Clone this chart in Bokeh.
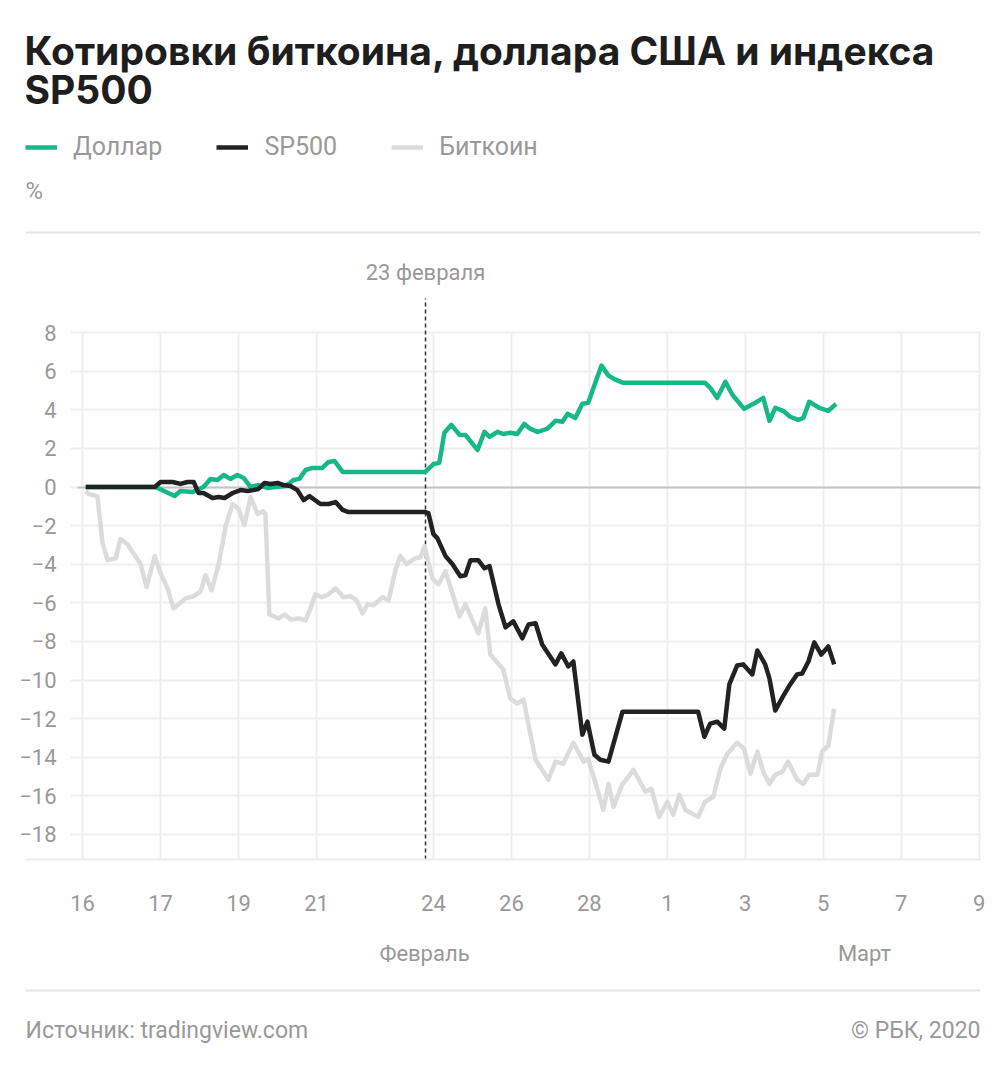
from bokeh.plotting import figure
from bokeh.models import (Range1d, FixedTicker, Label, Legend, LegendItem,
                          BoxAnnotation, Grid)
from bokeh.embed import file_html
from bokeh.resources import INLINE

# ---------------- data (day of Feb 2020; Mar 1 = 30) ----------------
btc_day = [15.08, 15.15, 15.38, 15.51, 15.64, 15.85, 15.97, 16.15, 16.49, 16.64, 16.85, 17.00,
           17.18, 17.33, 17.64, 17.85, 18.03, 18.15, 18.31, 18.49, 18.67, 18.85, 19.00, 19.15,
           19.31, 19.49, 19.62, 19.69, 19.79, 20.03, 20.18, 20.33, 20.54, 20.72, 20.82, 20.97,
           21.13, 21.31, 21.49, 21.69, 21.87, 22.03, 22.18, 22.31, 22.46, 22.69, 22.85, 23.03,
           23.15, 23.31, 23.54, 23.67, 23.77, 23.97, 24.13, 24.31, 24.67, 24.82, 25.15, 25.33,
           25.46, 25.79, 25.97, 26.15, 26.31, 26.62, 26.95, 27.13, 27.33, 27.59, 27.85, 27.97,
           28.15, 28.36, 28.49, 28.62, 28.85, 28.97, 29.13, 29.44, 29.59, 29.79, 30.00, 30.15,
           30.31, 30.46, 30.79, 30.97, 31.18, 31.36, 31.54, 31.79, 31.97, 32.13, 32.31, 32.46,
           32.62, 32.77, 32.95, 33.10, 33.33, 33.49, 33.64, 33.85, 33.97, 34.13, 34.28]
btc_pct = [-0.21, -0.36, -0.47, -2.91, -3.79, -3.69, -2.70, -2.96, -4.00, -5.19, -3.58, -4.47,
           -5.25, -6.29, -5.77, -5.66, -5.40, -4.57, -5.35, -4.00, -2.03, -0.88, -1.14, -1.97,
           -0.52, -1.40, -1.25, -1.40, -6.60, -6.81, -6.60, -6.86, -6.81, -6.91, -6.44, -5.56,
           -5.71, -5.56, -5.25, -5.71, -5.66, -5.87, -6.55, -6.08, -6.13, -5.71, -5.87, -4.26,
           -3.58, -4.00, -3.69, -3.64, -3.06, -4.73, -5.04, -4.36, -6.70, -6.08, -7.58, -6.29,
           -8.68, -9.45, -10.96, -11.22, -11.01, -14.13, -15.17, -14.23, -14.34, -13.25, -14.23, -14.08,
           -15.27, -16.73, -15.38, -16.57, -15.38, -15.12, -14.65, -15.79, -15.64, -17.09, -16.31, -16.99,
           -15.95, -16.73, -17.09, -16.31, -16.05, -14.60, -13.82, -13.25, -13.56, -14.86, -13.71, -14.75,
           -15.38, -14.91, -14.75, -14.23, -15.17, -15.38, -14.91, -14.91, -13.71, -13.40, -11.48]

usd_day = [15.08, 16.87, 17.36, 17.51, 17.82, 18.10, 18.28, 18.46, 18.62, 18.79, 18.97, 19.13,
           19.31, 19.51, 19.74, 19.95, 20.21, 20.41, 20.56, 20.72, 20.90, 21.15, 21.31, 21.46,
           21.67, 23.79, 24.00, 24.15, 24.28, 24.46, 24.67, 24.82, 25.13, 25.31, 25.44, 25.64,
           25.79, 25.97, 26.15, 26.33, 26.49, 26.67, 26.92, 27.13, 27.31, 27.44, 27.64, 27.82,
           27.97, 28.31, 28.49, 28.67, 28.87, 30.97, 31.10, 31.28, 31.49, 31.67, 31.97, 32.21,
           32.46, 32.62, 32.77, 32.97, 33.15, 33.36, 33.49, 33.64, 33.90, 34.13, 34.33]
usd_pct = [0.00, 0.00, -0.47, -0.21, -0.26, 0.00, 0.42, 0.36, 0.62, 0.42, 0.62, 0.47,
           0.00, 0.10, -0.05, 0.00, 0.05, 0.36, 0.42, 0.88, 0.99, 0.99, 1.30, 1.35,
           0.78, 0.78, 1.19, 1.25, 2.81, 3.22, 2.70, 2.70, 1.92, 2.86, 2.60, 2.86,
           2.75, 2.81, 2.75, 3.27, 3.01, 2.86, 3.01, 3.43, 3.38, 3.79, 3.58, 4.31,
           4.36, 6.29, 5.77, 5.56, 5.40, 5.40, 5.14, 4.62, 5.45, 4.78, 4.05, 4.31,
           4.62, 3.43, 4.10, 3.95, 3.64, 3.48, 3.58, 4.42, 4.10, 3.95, 4.31]

spx_day = [15.08, 16.85, 17.00, 17.31, 17.51, 17.69, 17.85, 17.97, 18.10, 18.33, 18.49, 18.64,
           18.85, 19.05, 19.23, 19.38, 19.51, 19.67, 19.82, 20.00, 20.15, 20.33, 20.51, 20.67,
           20.82, 21.10, 21.31, 21.49, 21.67, 21.82, 23.79, 23.87, 24.00, 24.10, 24.31, 24.49,
           24.69, 24.82, 24.95, 25.15, 25.31, 25.44, 25.67, 25.85, 26.05, 26.28, 26.44, 26.62,
           26.79, 27.13, 27.28, 27.46, 27.59, 27.82, 27.95, 28.13, 28.28, 28.49, 28.85, 30.79,
           30.95, 31.10, 31.28, 31.46, 31.59, 31.79, 31.95, 32.18, 32.31, 32.51, 32.62, 32.77,
           32.95, 33.15, 33.33, 33.46, 33.62, 33.77, 33.95, 34.13, 34.28]
spx_pct = [0.00, 0.00, 0.26, 0.26, 0.16, 0.26, 0.26, -0.31, -0.31, -0.57, -0.52, -0.57,
           -0.31, -0.16, -0.21, -0.16, -0.10, 0.21, 0.16, 0.21, 0.10, 0.05, -0.16, -0.68,
           -0.47, -0.88, -0.88, -0.78, -1.19, -1.30, -1.30, -1.35, -2.44, -2.65, -3.58, -4.00,
           -4.62, -4.57, -3.79, -3.79, -4.21, -4.10, -6.08, -7.27, -6.96, -7.84, -7.12, -7.06,
           -8.16, -9.19, -8.62, -9.30, -9.04, -12.83, -12.16, -13.87, -14.13, -14.23, -11.64, -11.64,
           -12.94, -12.26, -12.16, -12.52, -10.23, -9.25, -9.19, -9.71, -8.47, -9.19, -9.92, -11.58,
           -10.91, -10.23, -9.71, -9.66, -9.04, -8.05, -8.68, -8.26, -9.19]

x_ticks = [15, 17, 19, 21, 24, 26, 28, 30, 32, 34, 36, 38]
x_tick_labels = ["16", "17", "19", "21", "24", "26", "28", "1", "3", "5", "7", "9"]
y_ticks = [8, 6, 4, 2, 0, -2, -4, -6, -8, -10, -12, -14, -16, -18]
y_tick_labels = ["8", "6", "4", "2", "0", "\u22122", "\u22124", "\u22126", "\u22128",
                 "\u221210", "\u221212", "\u221214", "\u221216", "\u221218"]
event_day = 23.79
series_names = ["Доллар", "SP500", "Биткоин"]

# ---------------- styling / geometry ----------------
GREEN = "#15b886"
BLACK = "#222222"
LIGHT = "#dcdcdc"
GRAY_TXT = "#999999"
GRID = "#efefef"
FONT = "Roboto"
TITLE_FONT = "Inter"

W, H = 1000, 1072
PX_PER_DAY = 38.98
PX_PER_PCT = 19.3
PLOT_LEFT, PLOT_RIGHT, PLOT_BOTTOM = 79, 980, 859
X_AT_LEFT = 14.92      # day at the plot's left edge
Y_AT_BOTTOM = -19.3    # percent at the plot's bottom edge
Y_TOP_GRID = 8


def data_x(px):
    return X_AT_LEFT + (px - PLOT_LEFT) / PX_PER_DAY


def data_y(py):
    return Y_AT_BOTTOM + (PLOT_BOTTOM - py) / PX_PER_PCT


p = figure(width=W, height=H,
           x_range=Range1d(data_x(0), data_x(W)), y_range=Range1d(data_y(H), data_y(0)),
           output_backend="svg", toolbar_location=None, min_border=0)
p.outline_line_color = None
p.background_fill_color = "white"
p.border_fill_color = "white"

# x axis (inside frame at the plot bottom)
xa = p.xaxis[0]
xa.fixed_location = Y_AT_BOTTOM
xa.bounds = (data_x(25), data_x(PLOT_RIGHT))
xa.ticker = FixedTicker(ticks=x_ticks)
xa.major_label_overrides = {t: l for t, l in zip(x_ticks, x_tick_labels)}
xa.axis_line_color = "#ececec"
xa.axis_line_width = 2
xa.major_tick_line_color = None
xa.minor_tick_line_color = None
xa.major_label_standoff = 29
xa.major_label_text_font = FONT
xa.major_label_text_font_size = "22px"
xa.major_label_text_color = GRAY_TXT

ya = p.yaxis[0]
ya.fixed_location = X_AT_LEFT
ya.bounds = (Y_AT_BOTTOM, Y_TOP_GRID)
ya.ticker = FixedTicker(ticks=y_ticks)
ya.major_label_overrides = {t: l for t, l in zip(y_ticks, y_tick_labels)}
ya.axis_line_color = None
ya.major_tick_line_color = None
ya.minor_tick_line_color = None
ya.major_label_standoff = 17
ya.major_label_text_font = FONT
ya.major_label_text_font_size = "22px"
ya.major_label_text_color = GRAY_TXT

# grids
xg = p.xgrid[0]
xg.ticker = FixedTicker(ticks=x_ticks)
xg.grid_line_color = GRID
xg.grid_line_width = 2
xg.cross_bounds = (Y_AT_BOTTOM, Y_TOP_GRID)

yg = p.ygrid[0]
yg.ticker = FixedTicker(ticks=y_ticks)
yg.grid_line_color = GRID
yg.grid_line_width = 2
yg.cross_bounds = (data_x(70), data_x(PLOT_RIGHT))

# zero line
p.add_layout(Grid(dimension=1, ticker=FixedTicker(ticks=[0]),
                  cross_bounds=(data_x(77), data_x(PLOT_RIGHT)),
                  grid_line_color="#c4c4c4", grid_line_width=2))
# 23 February dashed marker
p.add_layout(Grid(dimension=0, ticker=FixedTicker(ticks=[event_day]),
                  cross_bounds=(Y_AT_BOTTOM, data_y(298)),
                  grid_line_color="#333333", grid_line_width=1.5, grid_line_dash="4 3"))

# series
r_btc = p.line(btc_day, btc_pct, line_color=LIGHT, line_width=4.5, line_join="round")
r_usd = p.line(usd_day, usd_pct, line_color=GREEN, line_width=4.5, line_join="round")
r_spx = p.line(spx_day, spx_pct, line_color=BLACK, line_width=4.5, line_join="round")

legend = Legend(items=[LegendItem(label=series_names[0], renderers=[r_usd]),
                       LegendItem(label=series_names[1], renderers=[r_spx]),
                       LegendItem(label=series_names[2], renderers=[r_btc])],
                location=(25, H - 161), orientation="horizontal",
                glyph_width=32, glyph_height=24, label_height=24, label_standoff=16,
                spacing=54, padding=0, margin=0,
                background_fill_alpha=0, border_line_alpha=0,
                label_text_font=FONT, label_text_font_size="25px",
                label_text_color=GRAY_TXT)
p.add_layout(legend)

# horizontal rules
for py in (232, 990):
    p.add_layout(BoxAnnotation(left=data_x(25), right=data_x(PLOT_RIGHT),
                               top=data_y(py - 1), bottom=data_y(py + 1),
                               fill_color="#e4e4e4", fill_alpha=1.0, line_alpha=0))


# texts
def add_text(txt, px, py, size, color=GRAY_TXT, align="left", baseline="middle",
             style="normal", font=FONT):
    p.add_layout(Label(x=data_x(px), y=data_y(py), text=txt, text_font=font,
                       text_font_size=size, text_color=color, text_align=align,
                       text_baseline=baseline, text_font_style=style))


add_text("Котировки биткоина, доллара США и индекса", 24, 50, "39px", "#1e1e1e",
         baseline="middle", style="bold", font=TITLE_FONT)
add_text("SP500", 24, 89, "39px", "#1e1e1e", baseline="middle", style="bold",
         font=TITLE_FONT)
add_text("%", 25, 190, "24px")
add_text("23 февраля", 425, 272, "22px", align="center")
add_text("Февраль", 424, 953, "22px", align="center")
add_text("Март", 864, 953, "22px", align="center")
add_text("Источник: tradingview.com", 25, 1030, "23px")
add_text("© РБК, 2020", 980, 1030, "23px", align="right")

open("out.html", "w").write(file_html(p, INLINE))
